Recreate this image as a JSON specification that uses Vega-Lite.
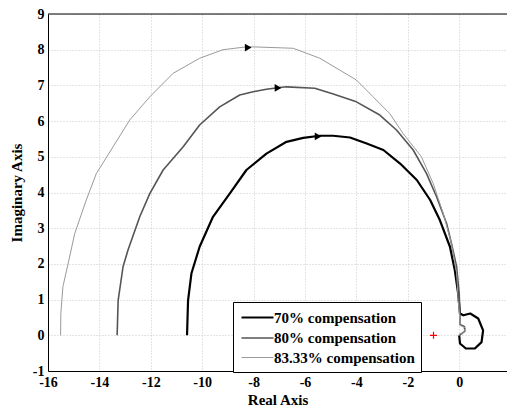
{
  "$schema": "https://vega.github.io/schema/vega-lite/v6.json",
  "width": 459,
  "height": 357,
  "autosize": {"type": "none"},
  "padding": {"left": 48, "top": 14, "right": 0, "bottom": 38},
  "background": "white",
  "datasets": {
    "curves": [
      {"s":"70% compensation","i":0,"x":-10.59,"y":0},
      {"s":"70% compensation","i":1,"x":-10.57,"y":0.5},
      {"s":"70% compensation","i":2,"x":-10.55,"y":0.98},
      {"s":"70% compensation","i":3,"x":-10.42,"y":1.73},
      {"s":"70% compensation","i":4,"x":-10.10,"y":2.48},
      {"s":"70% compensation","i":5,"x":-9.58,"y":3.32},
      {"s":"70% compensation","i":6,"x":-8.93,"y":3.97},
      {"s":"70% compensation","i":7,"x":-8.28,"y":4.63},
      {"s":"70% compensation","i":8,"x":-7.50,"y":5.09},
      {"s":"70% compensation","i":9,"x":-6.72,"y":5.42},
      {"s":"70% compensation","i":10,"x":-6.07,"y":5.53},
      {"s":"70% compensation","i":11,"x":-5.42,"y":5.59},
      {"s":"70% compensation","i":12,"x":-4.90,"y":5.59},
      {"s":"70% compensation","i":13,"x":-4.25,"y":5.54},
      {"s":"70% compensation","i":14,"x":-3.60,"y":5.37},
      {"s":"70% compensation","i":15,"x":-2.95,"y":5.19},
      {"s":"70% compensation","i":16,"x":-2.30,"y":4.81},
      {"s":"70% compensation","i":17,"x":-1.65,"y":4.35},
      {"s":"70% compensation","i":18,"x":-1.13,"y":3.79},
      {"s":"70% compensation","i":19,"x":-0.75,"y":3.22},
      {"s":"70% compensation","i":20,"x":-0.36,"y":2.48},
      {"s":"70% compensation","i":21,"x":-0.17,"y":1.82},
      {"s":"70% compensation","i":22,"x":-0.04,"y":1.17},
      {"s":"70% compensation","i":23,"x":0.03,"y":0.61},
      {"s":"70% compensation","i":24,"x":0.16,"y":0.56},
      {"s":"70% compensation","i":25,"x":0.43,"y":0.61},
      {"s":"70% compensation","i":26,"x":0.74,"y":0.47},
      {"s":"70% compensation","i":27,"x":0.93,"y":0.14},
      {"s":"70% compensation","i":28,"x":0.87,"y":-0.19},
      {"s":"70% compensation","i":29,"x":0.61,"y":-0.37},
      {"s":"70% compensation","i":30,"x":0.26,"y":-0.37},
      {"s":"70% compensation","i":31,"x":0.03,"y":-0.23},
      {"s":"70% compensation","i":32,"x":0.0,"y":0.0},
      {"s":"80% compensation","i":0,"x":-13.31,"y":0},
      {"s":"80% compensation","i":1,"x":-13.29,"y":0.5},
      {"s":"80% compensation","i":2,"x":-13.27,"y":0.98},
      {"s":"80% compensation","i":3,"x":-13.08,"y":1.92},
      {"s":"80% compensation","i":4,"x":-12.89,"y":2.38},
      {"s":"80% compensation","i":5,"x":-12.43,"y":3.32},
      {"s":"80% compensation","i":6,"x":-12.04,"y":3.97},
      {"s":"80% compensation","i":7,"x":-11.52,"y":4.63},
      {"s":"80% compensation","i":8,"x":-10.74,"y":5.28},
      {"s":"80% compensation","i":9,"x":-10.10,"y":5.89},
      {"s":"80% compensation","i":10,"x":-9.32,"y":6.40},
      {"s":"80% compensation","i":11,"x":-8.54,"y":6.73},
      {"s":"80% compensation","i":12,"x":-8.02,"y":6.82},
      {"s":"80% compensation","i":13,"x":-7.50,"y":6.89},
      {"s":"80% compensation","i":14,"x":-6.98,"y":6.94},
      {"s":"80% compensation","i":15,"x":-6.72,"y":6.96},
      {"s":"80% compensation","i":16,"x":-5.62,"y":6.92},
      {"s":"80% compensation","i":17,"x":-4.90,"y":6.76},
      {"s":"80% compensation","i":18,"x":-4.00,"y":6.54},
      {"s":"80% compensation","i":19,"x":-3.09,"y":6.17},
      {"s":"80% compensation","i":20,"x":-2.44,"y":5.75},
      {"s":"80% compensation","i":21,"x":-1.79,"y":5.19},
      {"s":"80% compensation","i":22,"x":-1.27,"y":4.53},
      {"s":"80% compensation","i":23,"x":-0.88,"y":3.88},
      {"s":"80% compensation","i":24,"x":-0.49,"y":3.13},
      {"s":"80% compensation","i":25,"x":-0.30,"y":2.57},
      {"s":"80% compensation","i":26,"x":-0.10,"y":1.92},
      {"s":"80% compensation","i":27,"x":0.0,"y":1.17},
      {"s":"80% compensation","i":28,"x":0.03,"y":0.6},
      {"s":"80% compensation","i":29,"x":0.03,"y":0.3},
      {"s":"80% compensation","i":30,"x":0.2,"y":0.25},
      {"s":"80% compensation","i":31,"x":0.22,"y":0.12},
      {"s":"80% compensation","i":32,"x":0.1,"y":0.05},
      {"s":"80% compensation","i":33,"x":0.0,"y":0.0},
      {"s":"83.33% compensation","i":0,"x":-15.51,"y":0},
      {"s":"83.33% compensation","i":1,"x":-15.50,"y":0.61},
      {"s":"83.33% compensation","i":2,"x":-15.42,"y":1.36},
      {"s":"83.33% compensation","i":3,"x":-15.22,"y":2.0},
      {"s":"83.33% compensation","i":4,"x":-14.96,"y":2.85},
      {"s":"83.33% compensation","i":5,"x":-14.51,"y":3.79},
      {"s":"83.33% compensation","i":6,"x":-14.12,"y":4.53},
      {"s":"83.33% compensation","i":7,"x":-13.47,"y":5.28},
      {"s":"83.33% compensation","i":8,"x":-12.82,"y":6.03},
      {"s":"83.33% compensation","i":9,"x":-12.04,"y":6.68},
      {"s":"83.33% compensation","i":10,"x":-11.13,"y":7.34},
      {"s":"83.33% compensation","i":11,"x":-10.10,"y":7.76},
      {"s":"83.33% compensation","i":12,"x":-9.19,"y":8.0},
      {"s":"83.33% compensation","i":13,"x":-8.28,"y":8.08},
      {"s":"83.33% compensation","i":14,"x":-8.02,"y":8.08},
      {"s":"83.33% compensation","i":15,"x":-6.46,"y":8.04},
      {"s":"83.33% compensation","i":16,"x":-5.42,"y":7.76},
      {"s":"83.33% compensation","i":17,"x":-4.65,"y":7.43},
      {"s":"83.33% compensation","i":18,"x":-4.0,"y":7.15},
      {"s":"83.33% compensation","i":19,"x":-3.35,"y":6.68},
      {"s":"83.33% compensation","i":20,"x":-2.70,"y":6.21},
      {"s":"83.33% compensation","i":21,"x":-2.18,"y":5.65},
      {"s":"83.33% compensation","i":22,"x":-1.47,"y":5.0},
      {"s":"83.33% compensation","i":23,"x":-1.01,"y":4.25},
      {"s":"83.33% compensation","i":24,"x":-0.62,"y":3.41},
      {"s":"83.33% compensation","i":25,"x":-0.30,"y":2.57},
      {"s":"83.33% compensation","i":26,"x":-0.10,"y":1.73},
      {"s":"83.33% compensation","i":27,"x":-0.04,"y":0.98},
      {"s":"83.33% compensation","i":28,"x":0.02,"y":0.51},
      {"s":"83.33% compensation","i":29,"x":0.03,"y":0.28},
      {"s":"83.33% compensation","i":30,"x":0.26,"y":0.2},
      {"s":"83.33% compensation","i":31,"x":0.14,"y":0.06},
      {"s":"83.33% compensation","i":32,"x":0.03,"y":0.05},
      {"s":"83.33% compensation","i":33,"x":0.0,"y":0.0}
    ],
    "arrows": [
      {"x": -8.21, "y": 8.06},
      {"x": -7.05, "y": 6.93},
      {"x": -5.49, "y": 5.57}
    ],
    "critical": [{"x": -1, "y": 0}],
    "border": [{"y": 9, "x": -16, "x2": 1.86}]
  },
  "encoding": {
    "x": {"field": "x", "type": "quantitative", "title": "Real Axis",
      "scale": {"domain": [-16, 1.86], "nice": false, "zero": false},
      "axis": {"values": [-16, -14, -12, -10, -8, -6, -4, -2, 0], "tickCount": 12, "labelExpr": "datum.value + ''", "labelPadding": 4, "titlePadding": 3, "labelFlush": false, "labelOverlap": false}},
    "y": {"field": "y", "type": "quantitative", "title": "Imaginary Axis",
      "scale": {"domain": [-1, 9], "nice": false, "zero": false},
      "axis": {"values": [-1, 0, 1, 2, 3, 4, 5, 6, 7, 8, 9], "tickCount": 12, "labelExpr": "datum.value + ''", "labelPadding": 4, "titlePadding": 8, "labelFlush": false, "labelOverlap": false}}
  },
  "layer": [
    {
      "data": {"name": "curves"},
      "mark": {"type": "line", "strokeJoin": "round", "clip": true},
      "encoding": {
        "order": {"field": "i", "type": "quantitative"},
        "color": {"field": "s", "type": "nominal",
          "scale": {"domain": ["70% compensation", "80% compensation", "83.33% compensation"], "range": ["#000000", "#555555", "#9a9a9a"]},
          "legend": {"title": null}},
        "strokeWidth": {"field": "s", "type": "nominal",
          "scale": {"domain": ["70% compensation", "80% compensation", "83.33% compensation"], "range": [2.2, 1, 0.8]},
          "legend": {"title": null}}
      }
    },
    {
      "data": {"name": "border"},
      "mark": {"type": "rule", "color": "#000", "strokeWidth": 1},
      "encoding": {
        "x2": {"field": "x2"}
      }
    },
    {
      "data": {"name": "arrows"},
      "mark": {"type": "point", "shape": "triangle-right", "filled": true, "color": "#000", "size": 60, "opacity": 1},
      "encoding": {}
    },
    {
      "data": {"name": "critical"},
      "mark": {"type": "point", "shape": "M-1,0H1M0,-1V1", "filled": false, "stroke": "#ff0000", "strokeWidth": 1.2, "size": 50, "opacity": 1},
      "encoding": {}
    }
  ],
  "resolve": {"legend": {"color": "shared", "strokeWidth": "shared"}},
  "config": {
    "font": "Liberation Serif",
    "view": {"stroke": null},
    "axis": {
      "labelFont": "Liberation Serif", "labelFontWeight": "bold", "labelFontSize": 14, "labelColor": "#000",
      "titleFont": "Liberation Serif", "titleFontWeight": "bold", "titleFontSize": 15, "titleColor": "#000",
      "domainColor": "#000", "domainWidth": 1, "ticks": false, "labelOverlap": false,
      "gridColor": "#c8c8c8", "gridDash": [1, 2], "gridWidth": 1
    },
    "legend": {
      "orient": "none", "legendX": 185, "legendY": 288,
      "strokeColor": "#000", "fillColor": "#fff", "padding": 6,
      "symbolType": "M-2,0H2", "symbolSize": 256, "symbolOffset": 9, "symbolStrokeColor": "#000",
      "labelFont": "Liberation Serif", "labelFontWeight": "bold", "labelFontSize": 15, "labelColor": "#000",
      "labelOffset": 7, "rowPadding": 3, "labelLimit": 300
    }
  }
}
